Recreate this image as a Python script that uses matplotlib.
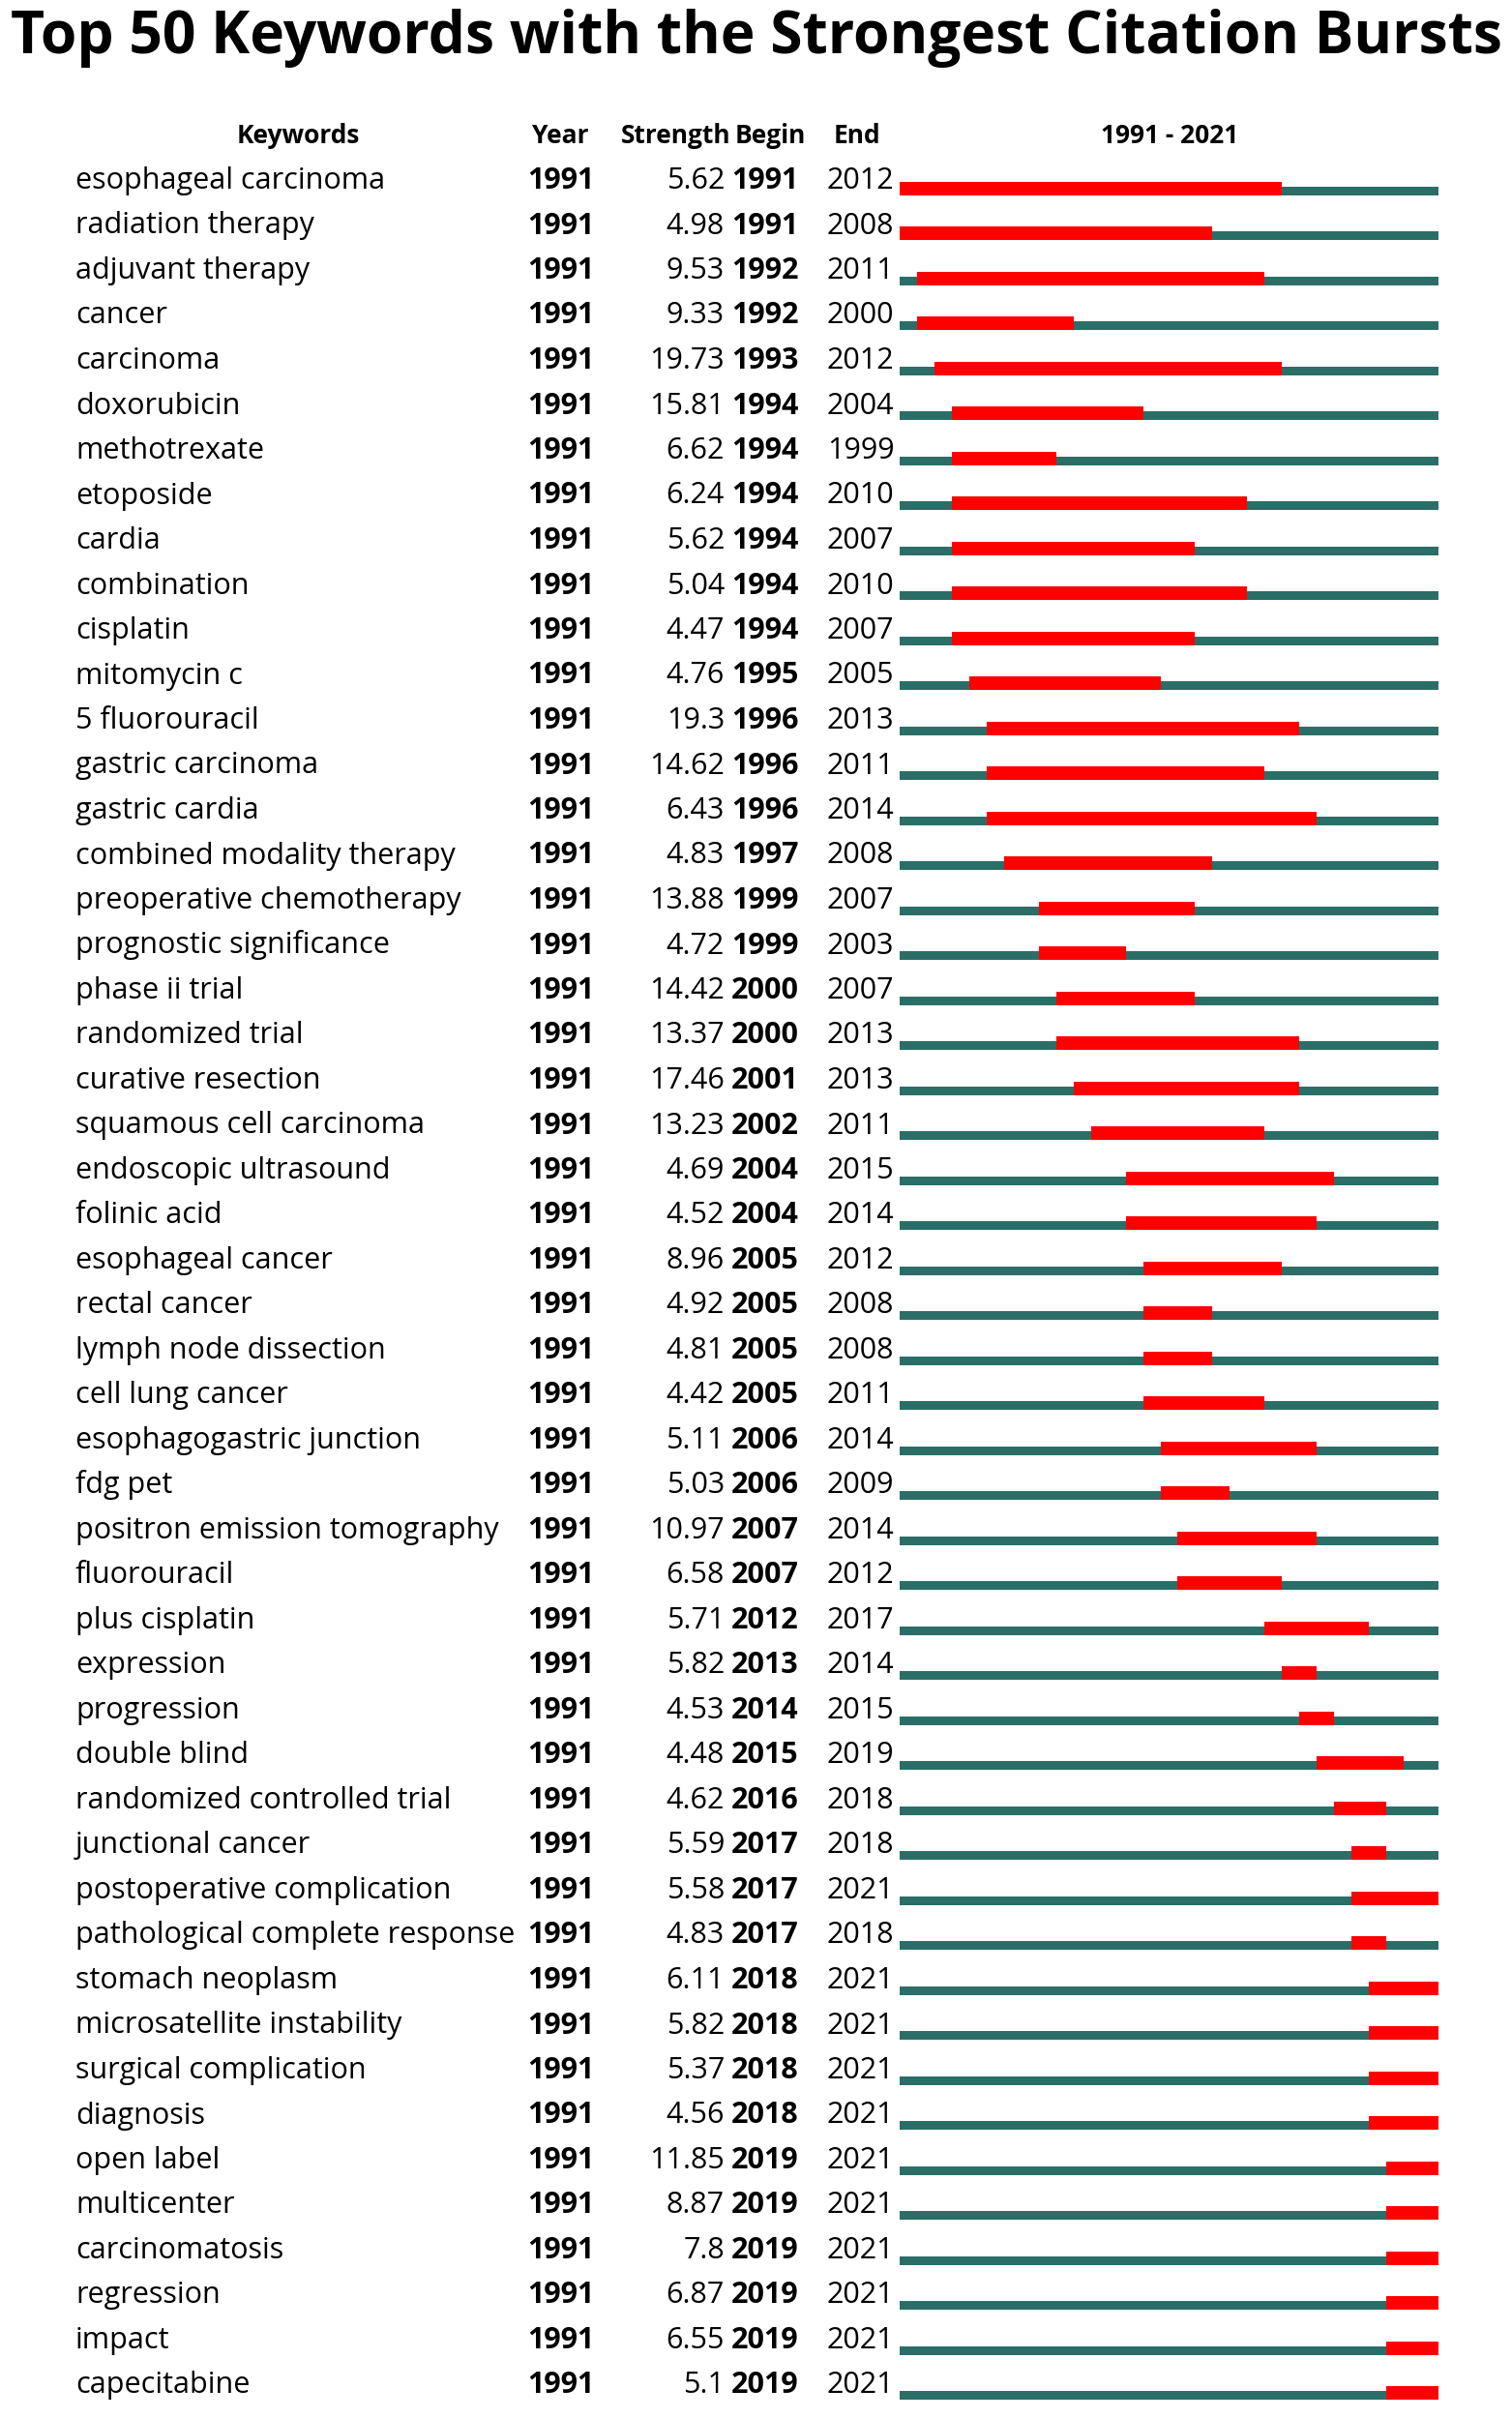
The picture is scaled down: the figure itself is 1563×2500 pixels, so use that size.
import matplotlib
matplotlib.use("Agg")
import matplotlib.pyplot as plt

# keyword burst data
keywords = [
    "esophageal carcinoma", "radiation therapy", "adjuvant therapy", "cancer",
    "carcinoma", "doxorubicin", "methotrexate", "etoposide", "cardia",
    "combination", "cisplatin", "mitomycin c", "5 fluorouracil",
    "gastric carcinoma", "gastric cardia", "combined modality therapy",
    "preoperative chemotherapy", "prognostic significance", "phase ii trial",
    "randomized trial", "curative resection", "squamous cell carcinoma",
    "endoscopic ultrasound", "folinic acid", "esophageal cancer",
    "rectal cancer", "lymph node dissection", "cell lung cancer",
    "esophagogastric junction", "fdg pet", "positron emission tomography",
    "fluorouracil", "plus cisplatin", "expression", "progression",
    "double blind", "randomized controlled trial", "junctional cancer",
    "postoperative complication", "pathological complete response",
    "stomach neoplasm", "microsatellite instability", "surgical complication",
    "diagnosis", "open label", "multicenter", "carcinomatosis", "regression",
    "impact", "capecitabine",
]
strength = [
    5.62, 4.98, 9.53, 9.33, 19.73, 15.81, 6.62, 6.24, 5.62, 5.04,
    4.47, 4.76, 19.3, 14.62, 6.43, 4.83, 13.88, 4.72, 14.42, 13.37,
    17.46, 13.23, 4.69, 4.52, 8.96, 4.92, 4.81, 4.42, 5.11, 5.03,
    10.97, 6.58, 5.71, 5.82, 4.53, 4.48, 4.62, 5.59, 5.58, 4.83,
    6.11, 5.82, 5.37, 4.56, 11.85, 8.87, 7.8, 6.87, 6.55, 5.1,
]
begin = [
    1991, 1991, 1992, 1992, 1993, 1994, 1994, 1994, 1994, 1994,
    1994, 1995, 1996, 1996, 1996, 1997, 1999, 1999, 2000, 2000,
    2001, 2002, 2004, 2004, 2005, 2005, 2005, 2005, 2006, 2006,
    2007, 2007, 2012, 2013, 2014, 2015, 2016, 2017, 2017, 2017,
    2018, 2018, 2018, 2018, 2019, 2019, 2019, 2019, 2019, 2019,
]
end = [
    2012, 2008, 2011, 2000, 2012, 2004, 1999, 2010, 2007, 2010,
    2007, 2005, 2013, 2011, 2014, 2008, 2007, 2003, 2007, 2013,
    2013, 2011, 2015, 2014, 2012, 2008, 2008, 2011, 2014, 2009,
    2014, 2012, 2017, 2014, 2015, 2019, 2018, 2018, 2021, 2018,
    2021, 2021, 2021, 2021, 2021, 2021, 2021, 2021, 2021, 2021,
]
year = 1991
first_year, last_year = 1991, 2021

RED = "#ff0000"
TEAL = "#2b6e68"
FONT = "Open Sans"

W, H = 1563, 2500
fig = plt.figure(figsize=(W / 100, H / 100), dpi=100)

# rows: pixel baseline = 195 + 46.5 * row
row_top = -195 / 46.5
row_bot = (H - 195) / 46.5

tab = fig.add_axes([0, 0, 1, 1])
tab.set_xlim(0, W)
tab.set_ylim(row_bot, row_top)
tab.axis("off")

bx0, bx1 = 930, 1487
bars = fig.add_axes([bx0 / W, 0, (bx1 - bx0) / W, 1])
bars.set_xlim(first_year, last_year + 1)
bars.set_ylim(row_bot, row_top)
bars.axis("off")

n = len(keywords)
rows = list(range(n))

# full-period line and burst segments
bars.barh([r + 0.047 for r in rows], [last_year + 1 - first_year] * n,
          left=first_year, height=0.194, color=TEAL, linewidth=0)
bars.barh([r - 0.006 for r in rows], [e + 1 - b for b, e in zip(begin, end)],
          left=begin, height=0.30, color=RED, linewidth=0)

# title
tab.text(W / 2, -3.01, "Top 50 Keywords with the Strongest Citation Bursts",
         ha="center", va="baseline", fontsize=43.6, fontweight="bold",
         family=FONT)

# header
hdr = dict(va="baseline", fontsize=19, fontweight="bold", family=FONT)
tab.text(308, -1, "Keywords", ha="center", **hdr)
tab.text(550, -1, "Year", ha="left", **hdr)
tab.text(755, -1, "Strength", ha="right", **hdr)
tab.text(760, -1, "Begin", ha="left", **hdr)
tab.text(862, -1, "End", ha="left", **hdr)
tab.text(1209, -1, f"{first_year} - {last_year}", ha="center", **hdr)

body = dict(va="baseline", fontsize=22, family=FONT)
for r in rows:
    tab.text(78, r, keywords[r], ha="left", **body)
    tab.text(545, r, str(year), ha="left", fontweight="bold", **body)
    tab.text(749, r, f"{strength[r]:g}", ha="right", **body)
    tab.text(756, r, str(begin[r]), ha="left", fontweight="bold", **body)
    tab.text(855, r, str(end[r]), ha="left", **body)

fig.savefig("out.png", dpi=100)
